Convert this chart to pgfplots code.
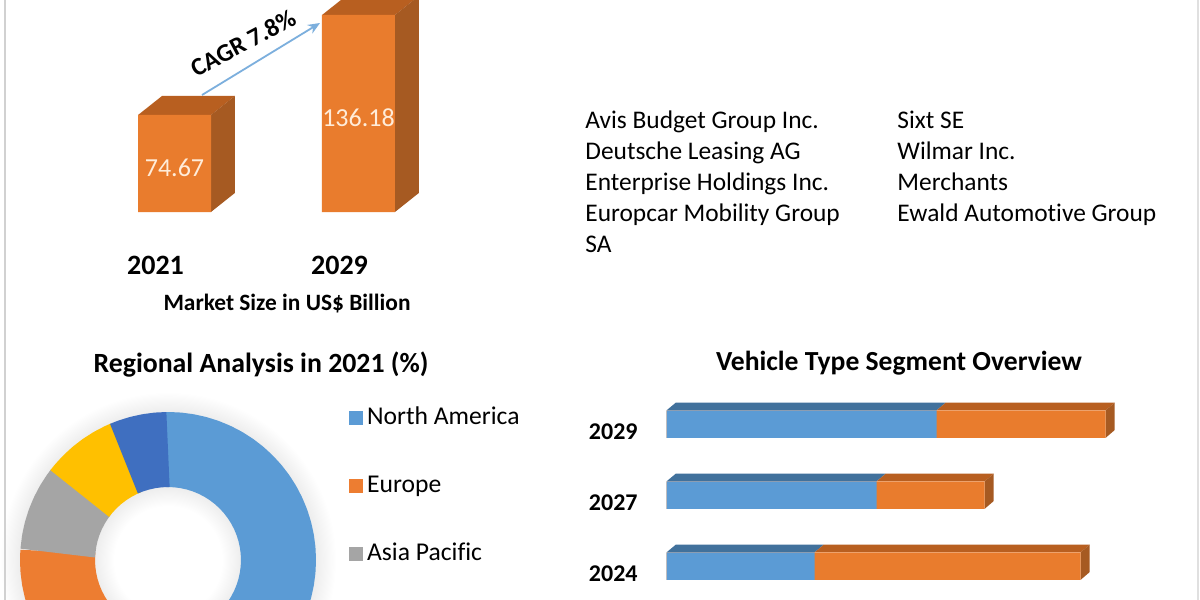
\documentclass[border=0pt]{standalone}
\usepackage{fontspec}
\setmainfont{Carlito}[Ligatures=NoCommon]
\usepackage{pgfplots}
\pgfplotsset{compat=1.18}
\usepgfplotslibrary{polar}
\usetikzlibrary{arrows.meta}

\definecolor{barorange}{HTML}{E97C2D}
\definecolor{orangetop}{HTML}{B85F20}
\definecolor{orangeside}{HTML}{A65A22}
\definecolor{barblue}{HTML}{5B9BD5}
\definecolor{bluetop}{HTML}{41719C}
\definecolor{darkblue}{HTML}{3F6FC0}
\definecolor{ringyellow}{HTML}{FFC000}
\definecolor{ringgrey}{HTML}{A5A5A5}
\definecolor{ringorange}{HTML}{ED7D31}
% tikz fits the inner 50bp of a shading to the path, so the circle's edge is 25bp
\pgfdeclareradialshading{ringglow}{\pgfpoint{0bp}{0bp}}{color(0bp)=(white); color(8bp)=(white); color(10.9bp)=(black!7); color(22bp)=(black!7); color(25bp)=(white); color(50bp)=(white)}

\begin{document}
\begin{tikzpicture}
% page is 600pt x 300pt, one image pixel is half a point
\path[use as bounding box,clip] (0pt,-300pt) rectangle (600pt,0pt);
\fill[white] (0pt,-300pt) rectangle (600pt,0pt);

% market size bars, axis starts at 15 as in the picture
\begin{axis}[
    at={(50pt,-106pt)}, anchor=south west,
    scale only axis, width=170pt, height=106pt,
    xmin=-0.405, xmax=1.443, ymin=15, ymax=145.4,
    clip=false,
    axis y line=none, axis x line=bottom,
    x axis line style={draw=none},
    xtick={0,1}, xticklabels={2021,2029},
    major tick length=0pt,
    xticklabel style={font=\fontsize{14}{16}\selectfont\bfseries, yshift=-18.5pt, xshift=-9.5pt},
]
\addplot[fill=orangetop,draw=none] coordinates {(-0.198,74.67) (-0.068,86.37) (0.328,86.37) (0.198,74.67)};
\addplot[fill=orangeside,draw=none] coordinates {(0.198,15) (0.328,26.7) (0.328,86.37) (0.198,74.67)};
\addplot[fill=orangetop,draw=none] coordinates {(0.802,136.18) (0.932,147.88) (1.328,147.88) (1.198,136.18)};
\addplot[fill=orangeside,draw=none] coordinates {(1.198,15) (1.328,26.7) (1.328,147.88) (1.198,136.18)};
\addplot[ybar,bar width=36.5pt,bar shift=0pt,fill=barorange,draw=none] coordinates {(0,74.67) (1,136.18)};
\node[text=orange!15,font=\fontsize{13}{15}\selectfont] at (axis cs:0,42) {74.67};
\node[text=orange!15,font=\fontsize{13}{15}\selectfont] at (axis cs:1,73) {136.18};
\end{axis}

% regional ring: radius 110.5, angles at every 5 degrees, shares 62.1 13.9 9.3 8.2 6.5
\shade[shading=ringglow] (84pt,-280pt) circle (84pt);
\begin{polaraxis}[
    at={(84pt,-280pt)}, anchor=center,
    scale only axis, width=160pt, height=160pt,
    ymin=0, ymax=160, hide axis, clip=false,
    every axis plot/.append style={line width=37.5pt,line cap=butt,line join=round,mark=none},
    legend cell align=left,
    legend style={draw=none,fill=none,at={(1.046,1.0)},anchor=north west,
        row sep=20pt,font=\fontsize{12.8}{15}\selectfont,
        nodes={text height=8pt,text depth=2pt}},
    legend image code/.code={\fill[draw=none,line width=0pt] (0pt,-3.5pt) rectangle (7pt,3.5pt);},
]
% each slice runs a little under the next one so that no seam shows
\addplot[color=barblue] coordinates {(91,110.5) (90,110.5) (85,110.5) (80,110.5) (75,110.5) (70,110.5) (65,110.5) (60,110.5) (55,110.5) (50,110.5) (45,110.5) (40,110.5) (35,110.5) (30,110.5) (25,110.5) (20,110.5) (15,110.5) (10,110.5) (5,110.5) (0,110.5) (-5,110.5) (-10,110.5) (-15,110.5) (-20,110.5) (-25,110.5) (-30,110.5) (-35,110.5) (-40,110.5) (-45,110.5) (-50,110.5) (-55,110.5) (-60,110.5) (-65,110.5) (-70,110.5) (-75,110.5) (-80,110.5) (-85,110.5) (-90,110.5) (-95,110.5) (-100,110.5) (-105,110.5) (-110,110.5) (-115,110.5) (-120,110.5) (-125,110.5) (-130,110.5) (-134.5,110.5)};
\addplot[color=ringorange] coordinates {(-133.6,110.5) (-140,110.5) (-145,110.5) (-150,110.5) (-155,110.5) (-160,110.5) (-165,110.5) (-170,110.5) (-175,110.5) (-180,110.5) (-184.5,110.5)};
\addplot[color=ringgrey] coordinates {(176.4,110.5) (170,110.5) (165,110.5) (160,110.5) (155,110.5) (150,110.5) (145,110.5) (142,110.5)};
\addplot[color=ringyellow] coordinates {(143,110.5) (140,110.5) (135,110.5) (130,110.5) (125,110.5) (120,110.5) (115,110.5) (112.5,110.5)};
\addplot[color=darkblue] coordinates {(113.5,110.5) (110,110.5) (105,110.5) (100,110.5) (95,110.5) (90,110.5)};
\legend{North America,Europe,Asia Pacific}
\end{polaraxis}

% vehicle type bars
\begin{axis}[
    at={(333.35pt,-300pt)}, anchor=south west,
    scale only axis, width=230pt, height=105pt,
    xmin=0, xmax=460, ymin=-0.479, ymax=2.479,
    clip=false,
    axis x line=none, axis y line=left,
    y axis line style={draw=none},
    ytick={0,1,2}, yticklabels={2024,2027,2029},
    major tick length=0pt,
    yticklabel style={font=\fontsize{12}{15}\selectfont\bfseries, xshift=-11pt, yshift=-4pt},
]
% tops and ends of the bars
\addplot[fill=bluetop,draw=none] coordinates {(0,2.194) (9,2.30) (279,2.30) (270,2.194)};
\addplot[fill=orangetop,draw=none] coordinates {(270,2.194) (279,2.30) (448,2.30) (439,2.194)};
\addplot[fill=orangeside,draw=none] coordinates {(439,2.194) (448,2.30) (448,1.915) (439,1.806)};
\addplot[fill=bluetop,draw=none] coordinates {(0,1.194) (9,1.30) (219,1.30) (210,1.194)};
\addplot[fill=orangetop,draw=none] coordinates {(210,1.194) (219,1.30) (327,1.30) (318,1.194)};
\addplot[fill=orangeside,draw=none] coordinates {(318,1.194) (327,1.30) (327,0.915) (318,0.806)};
\addplot[fill=bluetop,draw=none] coordinates {(0,0.194) (9,0.30) (157,0.30) (148,0.194)};
\addplot[fill=orangetop,draw=none] coordinates {(148,0.194) (157,0.30) (423,0.30) (414,0.194)};
\addplot[fill=orangeside,draw=none] coordinates {(414,0.194) (423,0.30) (423,-0.085) (414,-0.194)};
% totals first, the first segment on top of them
\addplot[xbar,bar width=13.75pt,bar shift=0pt,fill=barorange,draw=none] coordinates {(439,2) (318,1) (414,0)};
\addplot[xbar,bar width=13.75pt,bar shift=0pt,fill=barblue,draw=none] coordinates {(270,2) (210,1) (148,0)};
\end{axis}

% free text and rules, coordinates in image pixels
\begin{scope}[x=0.5pt,y=-0.5pt]
\draw[black!18,line width=0.8pt] (5,0) -- (5,600);
\draw[black!12,line width=0.8pt] (1198,0) -- (1198,600);
\draw[-{Stealth[length=6pt,width=5pt]},color=barblue!80,line width=0.9pt] (202,95) -- (320,23);
\node[rotate=28,font=\fontsize{12.6}{16}\selectfont\bfseries] at (243,43) {CAGR 7.8\%};
\node[font=\fontsize{11.7}{14}\selectfont\bfseries] at (287,304) {Market Size in US\$ Billion};
\foreach \name [count=\i from 0] in {Avis Budget Group Inc.,Deutsche Leasing AG,Enterprise Holdings Inc.,Europcar Mobility Group,SA}
  \node[anchor=base west,inner sep=0pt,font=\fontsize{12.7}{15}\selectfont] at (585,128+31*\i) {\name};
\foreach \name [count=\i from 0] in {Sixt SE,Wilmar Inc.,Merchants,Ewald Automotive Group}
  \node[anchor=base west,inner sep=0pt,font=\fontsize{12.7}{15}\selectfont] at (897,128+31*\i) {\name};
\node[font=\fontsize{13.9}{17}\selectfont\bfseries] at (261,365) {Regional Analysis in 2021 (\%)};
\node[font=\fontsize{13.8}{17}\selectfont\bfseries] at (899,363.5) {Vehicle Type Segment Overview};
\end{scope}
\end{tikzpicture}
\end{document}
